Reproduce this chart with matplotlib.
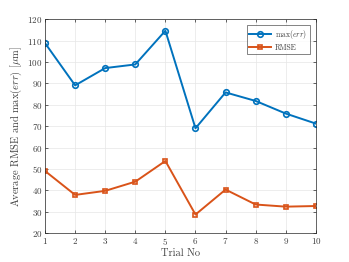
import matplotlib
matplotlib.use("Agg")
import matplotlib.pyplot as plt

trials = [1, 2, 3, 4, 5, 6, 7, 8, 9, 10]
max_err = [108.9, 89.1, 97.2, 98.9, 114.7, 69.0, 85.8, 81.8, 75.9, 71.2]
rmse = [49.0, 37.8, 39.7, 44.0, 53.7, 28.6, 40.3, 33.3, 32.3, 32.6]
yticks = [20, 30, 40, 50, 60, 70, 80, 90, 100, 110, 120]

BLUE = "#0072BD"
ORANGE = "#D95319"
AXIS = "#262626"
TEXT = "#404040"

plt.rcParams.update(
    {
        "font.family": "cmr10",
        "mathtext.fontset": "cm",
        "axes.formatter.use_mathtext": True,
        "axes.edgecolor": AXIS,
        "axes.linewidth": 0.5,
        "xtick.color": AXIS,
        "ytick.color": AXIS,
        "xtick.labelcolor": TEXT,
        "ytick.labelcolor": TEXT,
        "xtick.direction": "in",
        "ytick.direction": "in",
        "xtick.major.size": 2.5,
        "ytick.major.size": 2.5,
        "xtick.major.width": 0.5,
        "ytick.major.width": 0.5,
        "xtick.top": True,
        "ytick.right": True,
    }
)

fig = plt.figure(figsize=(3.49, 2.62), dpi=100)
ax = fig.add_axes([0.129, 0.111, 0.776, 0.815])

ax.plot(trials, max_err, color=BLUE, linewidth=1.4, marker="o", markersize=4,
        markerfacecolor="none", markeredgewidth=1.2, label=r"$\max(err)$")
ax.plot(trials, rmse, color=ORANGE, linewidth=1.4, marker="s", markersize=3.5,
        markerfacecolor="none", markeredgewidth=1.2, label="RMSE")

ax.set_xlim(1, 10)
ax.set_ylim(20, 120)
ax.set_xticks(trials)
ax.set_yticks(yticks)
ax.tick_params(labelsize=6.5, pad=2)
ax.grid(True, color="#e6e6e6", linewidth=0.5)
ax.set_axisbelow(True)

ax.set_xlabel("Trial No", fontsize=7.5, color=TEXT, labelpad=1)
ax.set_ylabel(r"Average RMSE and $\max(err)$ [$\mu$m]", fontsize=7.5, color=TEXT, labelpad=2)

leg = ax.legend(loc="upper right", fontsize=5.5, frameon=True, fancybox=False,
                edgecolor=AXIS, borderpad=0.35, handlelength=2.9, labelspacing=0.25,
                borderaxespad=0.8, handletextpad=0.5)
leg.get_frame().set_linewidth(0.5)
for text in leg.get_texts():
    text.set_color(TEXT)

fig.savefig("out.png", dpi=100, facecolor="white")
